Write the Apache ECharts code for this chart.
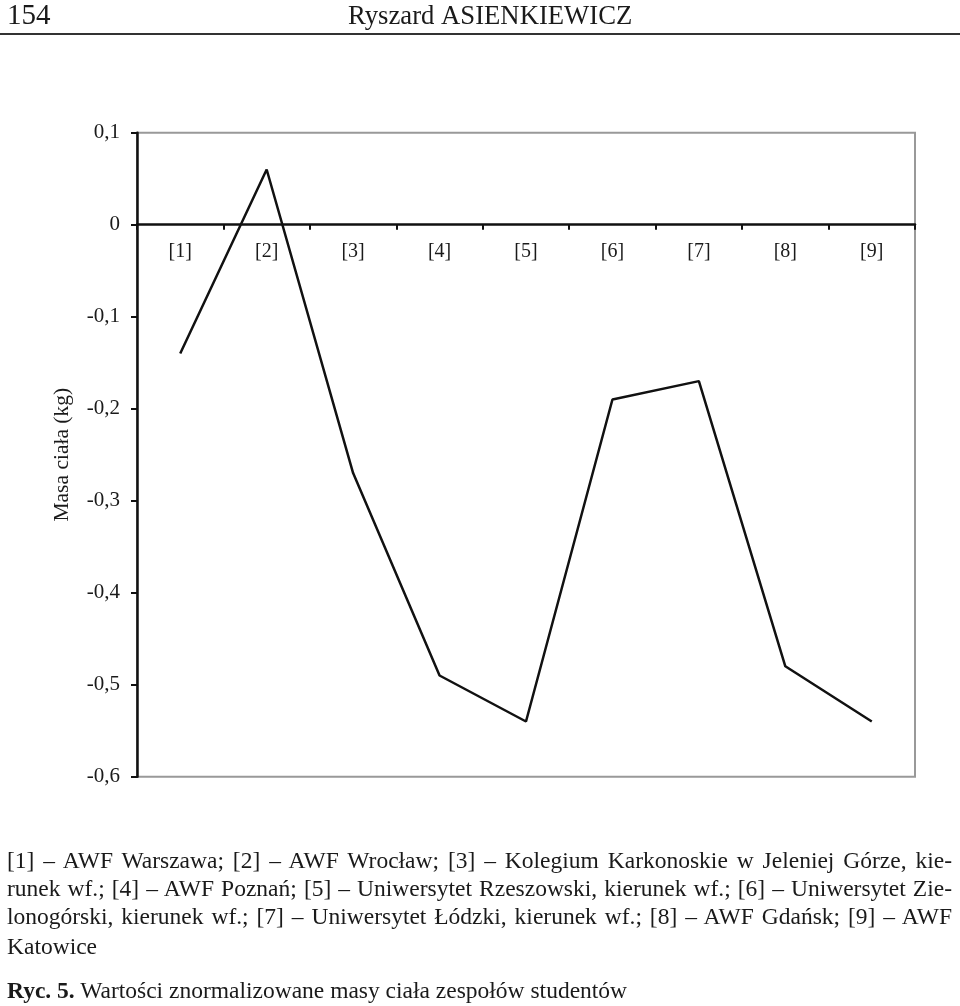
<!DOCTYPE html>
<html>
<head>
<meta charset="utf-8">
<script src="https://cdn.jsdelivr.net/npm/echarts@6/dist/echarts.min.js"></script>
<style>
  html, body { margin: 0; padding: 0; background: #fff; }
  #wrap { position: relative; width: 960px; height: 1006px; overflow: hidden; font-family: "Liberation Serif", "DejaVu Serif", serif; color: #1a1a1a; }
  #chart { position: absolute; left: 0; top: 0; width: 960px; height: 1006px; }
  .cap { position: absolute; left: 7px; width: 945px; font-size: 23.5px; line-height: 24px; text-align: justify; text-align-last: justify; white-space: nowrap; }
  .cap.last { text-align-last: left; }
</style>
</head>
<body>
<div id="wrap">
  <div id="chart"></div>
  <div class="cap" style="top:848px">[1] – AWF Warszawa; [2] – AWF Wrocław; [3] – Kolegium Karkonoskie w Jeleniej Górze, kie-</div>
  <div class="cap" style="top:876px">runek wf.; [4] – AWF Poznań; [5] – Uniwersytet Rzeszowski, kierunek wf.; [6] – Uniwersytet Zie-</div>
  <div class="cap" style="top:904px">lonogórski, kierunek wf.; [7] – Uniwersytet Łódzki, kierunek wf.; [8] – AWF Gdańsk; [9] – AWF</div>
  <div class="cap last" style="top:934px">Katowice</div>
  <div class="cap last" style="top:978px"><b>Ryc. 5.</b> Wartości znormalizowane masy ciała zespołów studentów</div>
</div>
<script>
const categories = ['[1]', '[2]', '[3]', '[4]', '[5]', '[6]', '[7]', '[8]', '[9]'];
const values = [-0.14, 0.06, -0.27, -0.49, -0.54, -0.19, -0.17, -0.48, -0.54];
const yMin = -0.6;
const yMax = 0.1;
const yStep = 0.1;
const yAxisName = 'Masa ciała (kg)';
const pageNumber = '154';
const runningHead = 'Ryszard ASIENKIEWICZ';

const gridTop = 132.7, gridBottom = 229.3, H = 1006;
const plotH = H - gridTop - gridBottom;
// x axis sits on the zero line: shift it up from the bottom edge of the grid
const zeroOffset = -plotH * (0 - yMin) / (yMax - yMin);

const chart = echarts.init(document.getElementById('chart'), null, { renderer: 'canvas' });
const serif = '"Liberation Serif", "DejaVu Serif", serif';
chart.setOption({
  animation: false,
  backgroundColor: '#fff',
  graphic: [
    { type: 'text', left: 7, top: 2, style: { text: pageNumber, font: '29px ' + serif, fill: '#1a1a1a' } },
    { type: 'text', left: 348, top: 3, style: { text: runningHead, font: '26.7px ' + serif, fill: '#1a1a1a' } },
    { type: 'line', shape: { x1: 0, y1: 34, x2: 960, y2: 34 }, style: { stroke: '#333', lineWidth: 2 } }
  ],
  grid: { left: 137, right: 45, top: gridTop, bottom: gridBottom, show: true, borderColor: '#999', borderWidth: 2, containLabel: false },
  xAxis: {
    type: 'category',
    data: categories,
    boundaryGap: true,
    position: 'bottom',
    offset: zeroOffset,
    axisLine: { onZero: false, lineStyle: { color: '#111', width: 2.5 } },
    axisTick: { show: true, length: 5, lineStyle: { color: '#111', width: 2 } },
    axisLabel: { margin: 17, color: '#1a1a1a', fontFamily: serif, fontSize: 20 },
    splitLine: { show: false }
  },
  yAxis: {
    type: 'value',
    min: yMin,
    max: yMax,
    interval: yStep,
    name: yAxisName,
    nameLocation: 'middle',
    nameGap: 64,
    nameTextStyle: { color: '#1a1a1a', fontFamily: serif, fontSize: 21.5 },
    axisLine: { show: true, lineStyle: { color: '#111', width: 2.5 } },
    axisTick: { show: true, length: 6, lineStyle: { color: '#111', width: 2 } },
    axisLabel: {
      margin: 17, color: '#1a1a1a', fontFamily: serif, fontSize: 21,
      formatter: v => { const r = Math.round(v * 10) / 10; return r === 0 ? '0' : String(r).replace('.', ','); }
    },
    splitLine: { show: false }
  },
  series: [{
    type: 'line',
    data: values,
    symbol: 'none',
    lineStyle: { color: '#111', width: 2.5 },
    z: 3
  }]
});
</script>
</body>
</html>
